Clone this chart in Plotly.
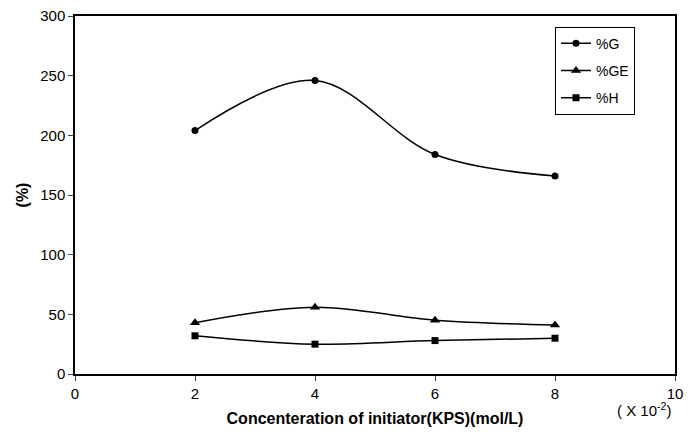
import plotly.graph_objects as go

conc = [2, 4, 6, 8]
g_vals = [204, 246, 184, 166]
ge_vals = [43, 56, 45, 41]
h_vals = [32, 25, 28, 30]
x_ticks = [0, 2, 4, 6, 8, 10]
y_ticks = [0, 50, 100, 150, 200, 250, 300]

fig = go.Figure()
series = [("%G", g_vals, "circle", 7), ("%GE", ge_vals, "triangle-up", 9), ("%H", h_vals, "square", 7)]
for name, vals, sym, sz in series:
    fig.add_trace(go.Scatter(
        x=conc, y=vals, name=name, mode="lines+markers", legendgroup=name,
        line=dict(color="black", width=1.5, shape="spline", smoothing=1.0),
        marker=dict(symbol=sym, size=sz, color="black"),
    ))

fig.update_layout(
    width=690, height=435,
    margin=dict(l=75, r=7, t=12, b=61),
    plot_bgcolor="white", paper_bgcolor="white",
    font=dict(family="Liberation Sans, Arial, sans-serif", size=15, color="black"),
    showlegend=True,
    legend=dict(x=0.8, y=0.97, xanchor="left", yanchor="top",
                bordercolor="black", borderwidth=1, bgcolor="white",
                font=dict(size=14), traceorder="grouped", tracegroupgap=6),
    xaxis=dict(range=[0, 10], tickvals=x_ticks, ticks="outside", ticklen=5,
               showline=True, linecolor="black", linewidth=1.5, mirror=True,
               showgrid=False, zeroline=False, tickfont=dict(size=15),
               title=dict(text="<b>Concenteration of initiator(KPS)(mol/L)</b>", standoff=12,
                          font=dict(size=16))),
    yaxis=dict(range=[0, 300], tickvals=y_ticks, ticks="outside", ticklen=5,
               showline=True, linecolor="black", linewidth=1.5, mirror=True,
               showgrid=False, zeroline=False, tickfont=dict(size=15),
               title=dict(text="<b>(%)</b>", standoff=8, font=dict(size=16))),
)

fig.add_annotation(x=9.48, y=-0.1, xref="x", yref="paper", yanchor="middle",
                   text="( X 10<sup>-2</sup>)", showarrow=False, font=dict(size=15))

fig.write_html("out.html")
